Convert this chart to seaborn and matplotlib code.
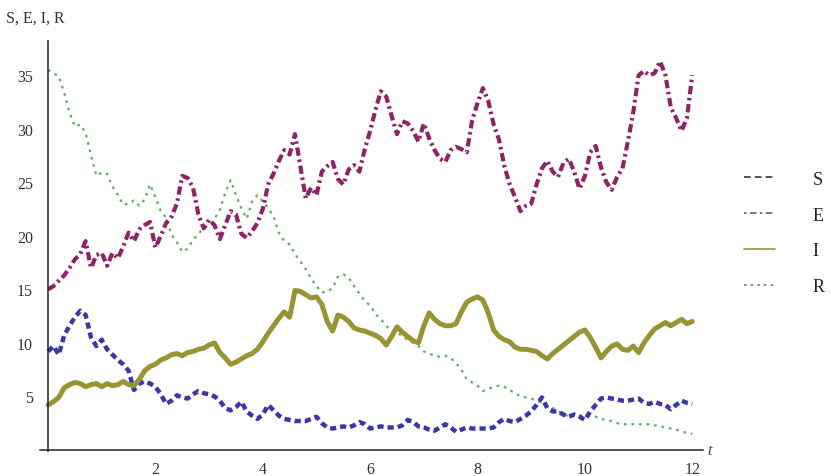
import numpy as np
import pandas as pd
import matplotlib
matplotlib.use("Agg")
import matplotlib.pyplot as plt
from matplotlib.lines import Line2D
from matplotlib.ticker import MultipleLocator
import seaborn as sns

# ---- data ----
t = np.round(np.arange(0, 121) * 0.1, 1)

S = [9.2, 9.7, 8.9, 10.7, 11.6, 12.4, 13.0, 12.6, 10.5, 9.7,
     10.3, 9.4, 8.9, 8.4, 8.0, 7.4, 5.6, 6.2, 6.4, 6.2,
     5.9, 5.2, 4.3, 4.6, 5.1, 4.9, 4.8, 5.2, 5.5, 5.3,
     5.2, 5.0, 4.6, 3.9, 3.7, 4.0, 4.5, 3.6, 3.2, 2.9,
     3.3, 4.2, 3.7, 3.2, 2.9, 2.8, 2.7, 2.7, 2.7, 2.9,
     3.1, 2.5, 2.1, 2.0, 2.1, 2.2, 2.1, 2.3, 2.6, 2.4,
     2.0, 2.1, 2.2, 2.1, 2.1, 2.1, 2.3, 2.8, 2.6, 2.2,
     2.1, 1.9, 1.8, 2.1, 2.4, 2.1, 1.7, 1.9, 2.1, 2.0,
     2.0, 2.0, 2.0, 2.1, 2.6, 2.9, 2.7, 2.6, 2.9, 3.2,
     3.6, 4.2, 4.9, 3.9, 3.6, 3.6, 3.3, 3.1, 3.3, 3.1,
     2.8, 3.6, 4.2, 4.8, 4.9, 4.8, 4.7, 4.6, 4.6, 4.7,
     4.8, 4.4, 4.3, 4.5, 4.3, 4.2, 3.8, 4.2, 4.6, 4.4,
     4.3]

E = [15.0, 15.3, 15.8, 16.3, 17.0, 17.8, 18.3, 19.5, 17.0, 18.2,
     18.4, 17.2, 18.4, 17.9, 19.0, 20.3, 19.5, 20.6, 21.0, 21.3,
     18.9, 20.0, 21.2, 21.8, 23.0, 25.6, 25.4, 24.5, 22.0, 20.7,
     21.5, 21.0, 19.7, 21.0, 22.3, 22.0, 20.2, 19.8, 20.4, 21.2,
     22.5, 24.8, 25.8, 27.0, 28.0, 27.6, 29.5, 26.5, 23.5, 24.5,
     23.8, 26.0, 26.5, 26.9, 25.3, 24.8, 26.2, 26.6, 26.0, 28.1,
     29.8, 31.8, 33.5, 33.0, 31.2, 29.5, 30.7, 30.5, 29.8, 28.8,
     30.5, 29.1, 28.0, 27.2, 26.9, 28.0, 28.3, 28.1, 27.8, 30.8,
     32.4, 33.8, 32.6, 30.4, 29.0, 26.5, 24.8, 23.6, 22.3, 22.8,
     23.0, 24.8, 26.3, 27.0, 26.0, 25.5, 26.8, 27.2, 26.0, 24.4,
     25.6, 27.8, 28.4, 26.4, 25.0, 24.3, 25.5, 26.3, 28.8, 31.5,
     35.0, 35.4, 35.0, 35.2, 36.3, 35.0, 32.0, 31.0, 29.8, 31.0,
     35.0]

I = [4.2, 4.5, 4.9, 5.8, 6.1, 6.3, 6.2, 5.9, 6.1, 6.2,
     5.9, 6.2, 6.0, 6.1, 6.4, 6.1, 6.0, 6.6, 7.4, 7.8,
     8.0, 8.4, 8.6, 8.9, 9.0, 8.8, 9.1, 9.2, 9.4, 9.5,
     9.8, 10.0, 9.1, 8.6, 8.0, 8.2, 8.5, 8.8, 9.0, 9.4,
     10.1, 10.9, 11.6, 12.3, 12.9, 12.4, 14.9, 14.8, 14.5, 14.2,
     14.3, 13.6, 12.0, 11.1, 12.6, 12.4, 12.0, 11.4, 11.2, 11.1,
     10.9, 10.7, 10.4, 9.8, 10.6, 11.5, 11.0, 10.6, 10.2, 10.0,
     11.6, 12.8, 12.2, 11.8, 11.6, 11.6, 11.8, 12.9, 13.8, 14.1,
     14.3, 14.0, 12.8, 11.2, 10.6, 10.3, 10.1, 9.6, 9.4, 9.4,
     9.3, 9.2, 8.8, 8.5, 9.0, 9.4, 9.8, 10.2, 10.6, 11.0,
     11.2, 10.5, 9.6, 8.6, 9.2, 9.7, 9.9, 9.4, 9.3, 9.7,
     9.1, 10.0, 10.7, 11.3, 11.6, 11.9, 11.6, 11.9, 12.2, 11.8,
     12.0]

R = [35.5, 35.2, 34.9, 33.4, 31.5, 30.2, 30.4, 29.6, 27.5, 25.6,
     25.9, 25.8, 24.6, 23.8, 22.9, 23.0, 23.3, 22.8, 23.4, 24.8,
     23.6, 22.3, 21.7, 20.1, 19.4, 18.5, 18.8, 19.6, 20.2, 20.7,
     21.0, 21.6, 22.4, 24.0, 25.2, 23.8, 22.6, 21.6, 23.2, 23.8,
     23.2, 22.6, 21.8, 20.3, 19.5, 19.2, 18.3, 17.6, 16.9, 16.0,
     15.3, 14.7, 14.8, 15.1, 16.2, 16.4, 16.1, 15.3, 14.6, 13.9,
     13.5, 12.7, 12.2, 11.6, 11.1, 11.0, 10.6, 10.3, 10.0, 9.7,
     9.2, 9.0, 8.8, 8.7, 8.8, 8.6, 8.1, 7.5, 6.6, 6.3,
     6.0, 5.5, 5.7, 5.9, 6.0, 5.9, 5.6, 5.3, 5.0, 4.9,
     4.8, 4.6, 4.4, 4.2, 3.9, 3.6, 3.4, 3.1, 3.2, 3.2,
     3.2, 3.2, 3.1, 2.9, 2.8, 2.7, 2.5, 2.4, 2.4, 2.4,
     2.4, 2.4, 2.4, 2.3, 2.2, 2.1, 2.0, 1.9, 1.7, 1.6,
     1.5]

series_names = ["S", "E", "I", "R"]
x_ticks = [2, 4, 6, 8, 10, 12]
y_ticks = [5, 10, 15, 20, 25, 30, 35]

# ---- styling ----
sns.set_style("white")
plt.rcParams["font.family"] = ["Liberation Serif", "DejaVu Serif"]

colors = {"S": "#3b37a6", "E": "#8e2366", "I": "#989434", "R": "#5fae63"}
styles = {
    "S": dict(lw=3.2, linestyle=(0, (1.4, 0.9))),
    "E": dict(lw=3.0, linestyle=(0, (2.0, 0.9, 0.6, 0.9))),
    "I": dict(lw=3.6, linestyle="-"),
    "R": dict(lw=1.6, linestyle=(0, (1.2, 2.2))),
}
data = {"S": S, "E": E, "I": I, "R": R}

fig = plt.figure(figsize=(8.31, 4.77), dpi=100)
ax = fig.add_axes([40 / 831, 25 / 477, 663 / 831, 410 / 477])

for name in ["R", "S", "E", "I"]:
    df = pd.DataFrame({"t": t, "v": data[name]})
    sns.lineplot(data=df, x="t", y="v", ax=ax, color=colors[name],
                 legend=False, **styles[name])

ax.set_xlim(-0.15, 12.2)
ax.set_ylim(-0.1, 38.2)
ax.set_xlabel("")
ax.set_ylabel("")

for side in ["top", "right"]:
    ax.spines[side].set_visible(False)
ax.spines["left"].set_position(("data", 0))
ax.spines["bottom"].set_position(("data", 0))
for side in ["left", "bottom"]:
    ax.spines[side].set_color("#222222")
    ax.spines[side].set_linewidth(1.1)

ax.set_xticks(x_ticks)
ax.set_yticks(y_ticks)
ax.xaxis.set_minor_locator(MultipleLocator(0.5))
ax.yaxis.set_minor_locator(MultipleLocator(1))
ax.tick_params(axis="both", which="major", direction="in", length=6,
               width=1.1, color="#222222", labelsize=11.5, labelcolor="#333333")
ax.tick_params(axis="both", which="minor", direction="in", length=3.5,
               width=1.0, color="#222222")
ax.tick_params(axis="x", pad=8)
ax.tick_params(axis="y", pad=11)

fig.text(6 / 831, 1 - 19 / 477, "S, E, I, R", fontsize=11.5, color="#333333",
         va="center", ha="left")
ax.text(12.28, 0, "t", fontsize=11.5, fontstyle="italic", color="#444444",
        va="center", ha="left")

legend_colors = {"S": "#333333", "E": "#666666", "I": "#989434", "R": "#777777"}
handles = [Line2D([0], [0], color=legend_colors[n], lw=1.2,
                  linestyle={"S": (0, (4, 2.5)), "E": (0, (1.5, 2, 4, 2)),
                             "I": "-", "R": (0, (1.5, 2.5))}[n])
           for n in series_names]
fig.legend(handles, series_names, loc="center left",
           bbox_to_anchor=(733 / 831, 1 - 234 / 477), frameon=False,
           fontsize=13, handlelength=1.7, handletextpad=2.1,
           labelspacing=1.05, labelcolor="#222222", borderaxespad=0.2)

fig.savefig("out.png", dpi=100, facecolor="white")
